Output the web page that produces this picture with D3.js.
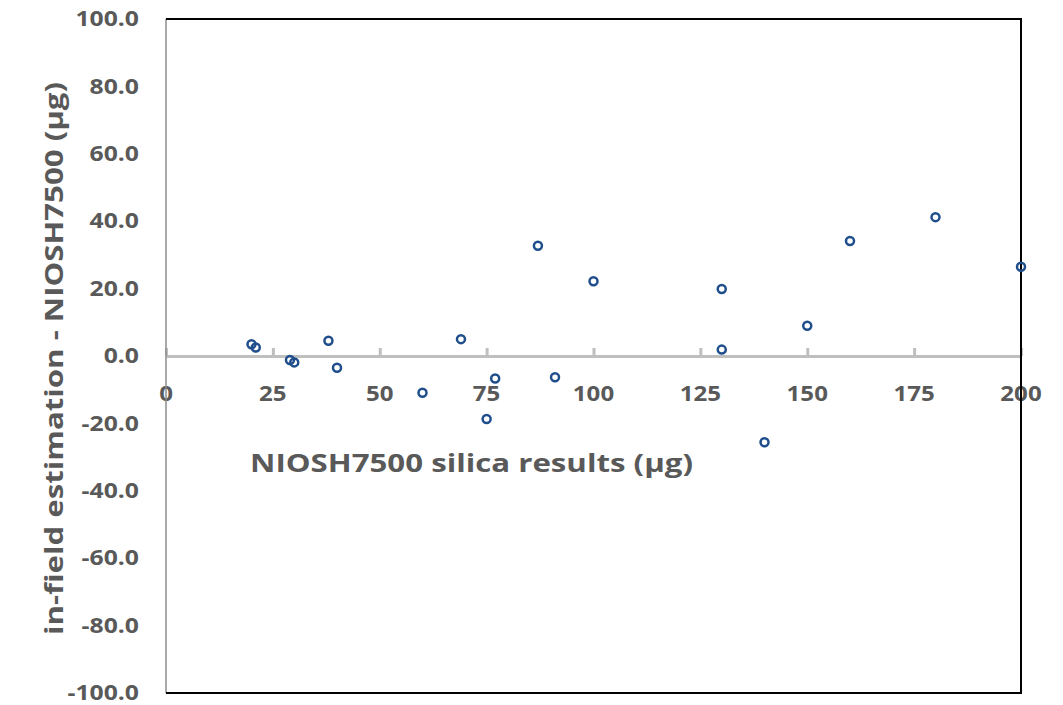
<!DOCTYPE html>
<html>
<head>
<meta charset="utf-8">
<script src="https://cdn.jsdelivr.net/npm/d3@7"></script>
<style>
  html, body { margin: 0; padding: 0; background: #fff; }
  svg { display: block; font-family: "Open Sans", "Liberation Sans", sans-serif; }
</style>
</head>
<body>
<svg id="chart" width="1063" height="705"></svg>
<script>
// NIOSH 7500 reference results (µg) and in-field estimation differences (µg)
const niosh = [20, 21, 29, 30, 38, 40, 60, 69, 75, 77, 87, 91, 100, 130, 130, 140, 150, 160, 180, 200];
const diff  = [3.5, 2.5, -1.2, -1.9, 4.5, -3.5, -10.9, 5.0, -18.7, -6.7, 32.7, -6.3, 22.2, 19.9, 1.9, -25.6, 9.0, 34.1, 41.2, 26.5];

const xTicks = [0, 25, 50, 75, 100, 125, 150, 175, 200];
const yTicks = [-100, -80, -60, -40, -20, 0, 20, 40, 60, 80, 100];

const xTitle = "NIOSH7500 silica results (\u03bcg)";
const yTitle = "in-field estimation - NIOSH7500 (\u03bcg)";

const W = 1063, H = 705;
const m = { left: 166, right: 42, top: 19, bottom: 12 };

const svg = d3.select("#chart");

const x = d3.scaleLinear().domain([0, 200]).range([m.left, W - m.right]);
const y = d3.scaleLinear().domain([-100, 100]).range([H - m.bottom, m.top]);

const labelColor = "#595959";
// one decimal, plain hyphen for negatives
const fmt = d => d3.format(".1f")(d).replace("\u2212", "-");

// Y tick labels (no tick marks on the value axis)
svg.append("g")
  .selectAll("text")
  .data(yTicks)
  .join("text")
  .attr("transform", d => `translate(${x(0) - 27},${y(d) + 7.2}) scale(1.15,1)`)
  .attr("text-anchor", "end")
  .attr("font-size", 21.5)
  .attr("font-weight", 700)
  .attr("fill", labelColor)
  .text(d => fmt(d));

// X tick labels sit below the zero line
svg.append("g")
  .selectAll("text")
  .data(xTicks)
  .join("text")
  .attr("transform", d => `translate(${x(d)},${y(0) + 45}) scale(1.12,1)`)
  .attr("text-anchor", "middle")
  .attr("font-size", 21.5)
  .attr("font-weight", 700)
  .attr("fill", labelColor)
  .text(d => d);

// Axis titles
svg.append("text")
  .attr("x", 250)
  .attr("y", 472)
  .attr("textLength", 443)
  .attr("lengthAdjust", "spacingAndGlyphs")
  .attr("font-size", 25.5)
  .attr("font-weight", 700)
  .attr("fill", labelColor)
  .text(xTitle);

svg.append("text")
  .attr("transform", `translate(63,${(82 + 635) / 2}) rotate(-90)`)
  .attr("text-anchor", "middle")
  .attr("textLength", 553)
  .attr("lengthAdjust", "spacingAndGlyphs")
  .attr("font-size", 25.5)
  .attr("font-weight", 700)
  .attr("fill", labelColor)
  .text(yTitle);

// Horizontal axis through zero with upward tick marks
const xAxis = d3.axisTop(x)
  .tickValues(xTicks)
  .tickSize(8)
  .tickSizeOuter(0)
  .tickFormat("");

const gx = svg.append("g")
  .attr("transform", `translate(0,${y(0)})`)
  .call(xAxis);
gx.select(".domain").attr("stroke", "#bfbfbf").attr("stroke-width", 3.2);
gx.selectAll(".tick line").attr("stroke", "#bfbfbf").attr("stroke-width", 3);

// Vertical value axis line
svg.append("line")
  .attr("x1", x(0)).attr("x2", x(0))
  .attr("y1", y(100)).attr("y2", y(-100))
  .attr("stroke", "#8c8c8c")
  .attr("stroke-width", 1.5);

// Plot frame on top, right and bottom
svg.append("path")
  .attr("d", `M${x(0)},${y(100)} H${x(200)} V${y(-100)} H${x(0)}`)
  .attr("fill", "none")
  .attr("stroke", "#000")
  .attr("stroke-width", 2);

// Hollow circle markers
svg.append("g")
  .selectAll("circle")
  .data(niosh.map((v, i) => [v, diff[i]]))
  .join("circle")
  .attr("cx", d => x(d[0]))
  .attr("cy", d => y(d[1]))
  .attr("r", 4)
  .attr("fill", "none")
  .attr("stroke", "#1f4e8c")
  .attr("stroke-width", 2.5);
</script>
</body>
</html>
